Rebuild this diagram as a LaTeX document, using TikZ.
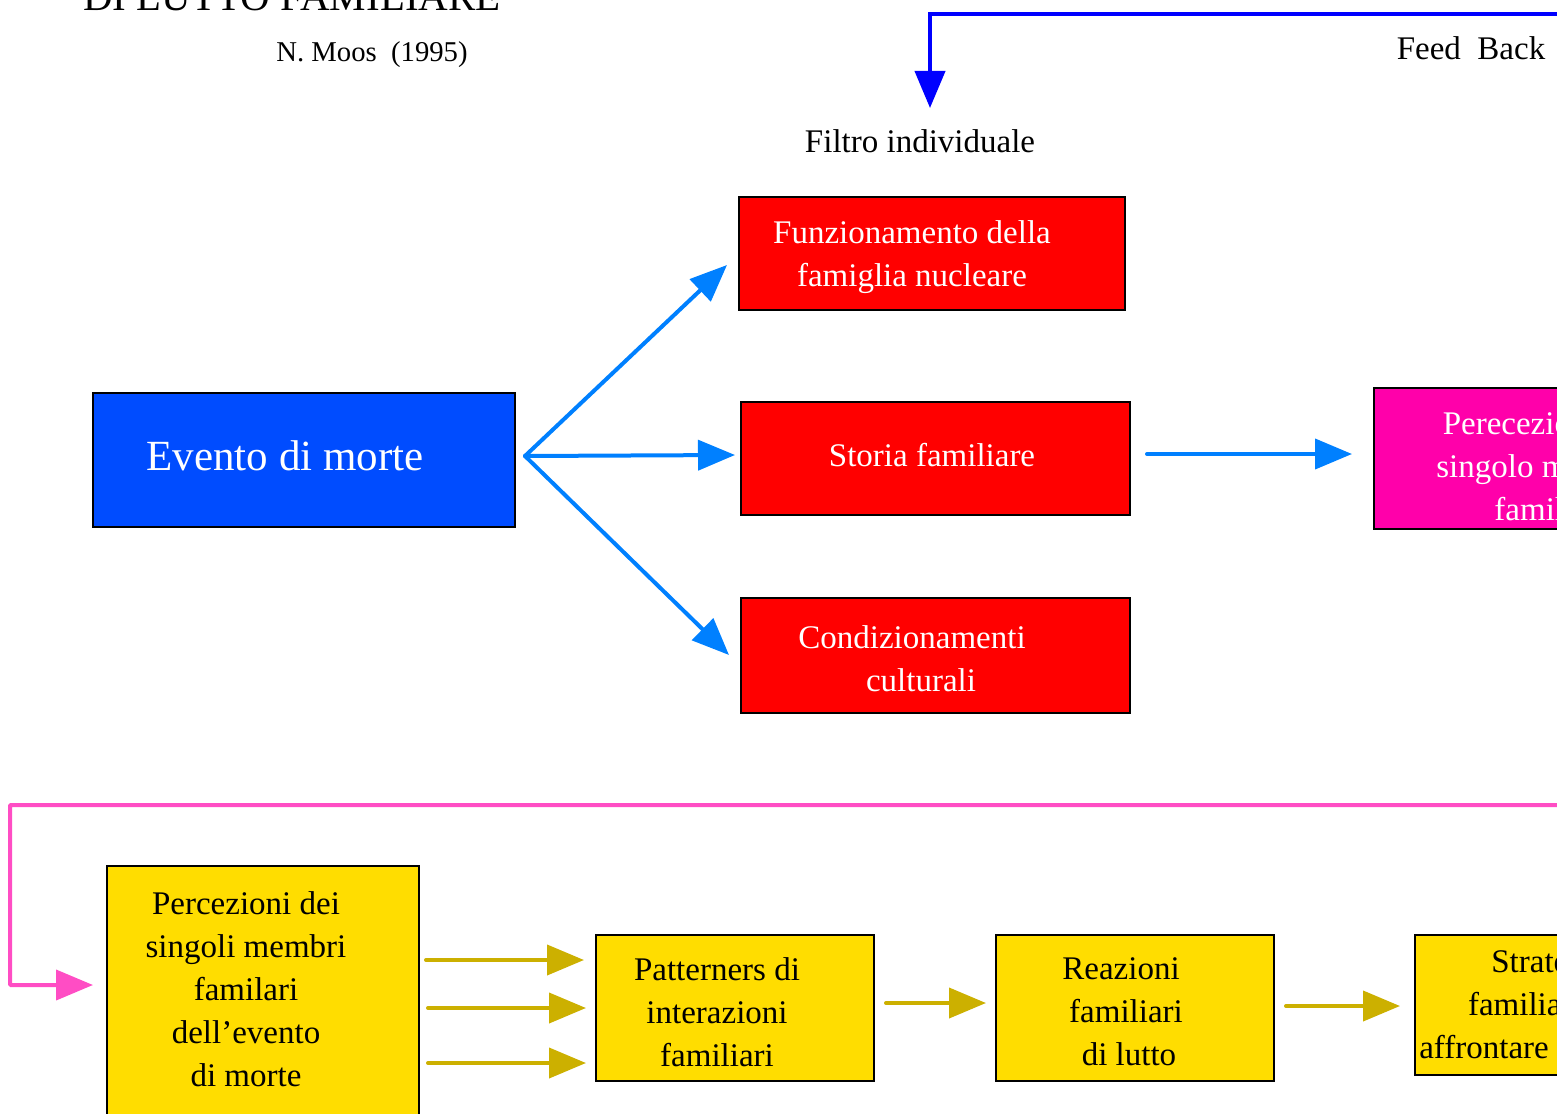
\documentclass[tikz,border=0pt]{standalone}
\usepackage{fontspec}
\setmainfont{Liberation Serif}
\usetikzlibrary{arrows.meta}
\definecolor{fbblue}{RGB}{0,0,255}
\definecolor{azure}{RGB}{0,128,255}
\definecolor{boxblue}{RGB}{0,76,255}
\definecolor{boxred}{RGB}{255,0,0}
\definecolor{boxmag}{RGB}{255,0,170}
\definecolor{boxyel}{RGB}{255,221,0}
\definecolor{gold}{RGB}{204,176,0}
\definecolor{pinkline}{RGB}{255,77,196}
\tikzset{
  box/.style={draw=black, line width=2.5, inner sep=0, rectangle},
  txt/.style={align=center, inner sep=0, font=\fontsize{33}{43}\selectfont},
  wtxt/.style={txt, text=white},
  tip/.style={-{Triangle[length=37,width=30]}, line width=4, line cap=round},
}
\begin{document}
\begin{tikzpicture}[x=1pt,y=-1pt]
\useasboundingbox (0,0) rectangle (1557,1113);
\clip (0,0) rectangle (1557,1113);

% titles
\node[anchor=base, inner sep=0, font=\fontsize{41}{48}\selectfont] (title) at (292,11) {DI LUTTO FAMILIARE};
\node[inner sep=0, font=\fontsize{28.7}{34}\selectfont] (author) at (372,55) {N. Moos\ \ (1995)};
\node[txt] (filtro) at (920,141) {Filtro individuale};
\node[txt] (feedback) at (1471,48) {Feed\ \ Back};

% boxes
\node[box, fill=boxblue, minimum width=422, minimum height=134] (evento) at (304,460) {};
\node[txt, text=white, font=\fontsize{43}{50}\selectfont] (eventot) at (285,456) {Evento di morte};

\node[box, fill=boxred, minimum width=386, minimum height=113] (r1) at (932,253.5) {};
\node[wtxt] (r1t) at (912,257) {Funzionamento della\\famiglia nucleare};
\node[box, fill=boxred, minimum width=389, minimum height=113] (r2) at (935.5,458.5) {};
\node[wtxt] (r2t) at (932,455) {Storia familiare};
\node[box, fill=boxred, minimum width=389, minimum height=115] (r3) at (935.5,655.5) {};
\node[wtxt] (r3t) at (912,659) {Condizionamenti\\\hspace*{18pt}culturali};

\node[box, fill=boxmag, minimum width=326, minimum height=141] (mag) at (1537,458.5) {};
\node[wtxt] (magt) at (1544,466) {Perecezioni del\\singolo membro\\\hspace*{20pt}familiare};

\node[box, fill=boxyel, minimum width=312, minimum height=274] (y1) at (263,1003) {};
\node[txt] (y1t) at (246,989) {Percezioni dei\\singoli membri\\familari\\dell’evento\\di morte};
\node[box, fill=boxyel, minimum width=278, minimum height=146] (y2) at (735,1008) {};
\node[txt] (y2t) at (717,1012) {Patterners di\\interazioni\\familiari};
\node[box, fill=boxyel, minimum width=278, minimum height=146] (y3) at (1135,1008) {};
\node[txt] (y3t) at (1126,1012) {Reazioni\hspace*{10pt}\\familiari\\\hspace*{6pt}di lutto};
\node[box, fill=boxyel, minimum width=285, minimum height=140] (y4) at (1557.5,1005) {};
\node[txt] (y4t) at (1550,1008) {Strategie\\familiari per\\affrontare la perdita};

% feedback connector
\coordinate (fbR) at (1600,14);
\coordinate (fbT) at (930,108);
\draw[tip, fbblue] (fbR) -| (fbT);

% azure arrows
\coordinate (split) at (525,456);
\coordinate (t1) at (727,265);
\coordinate (t2) at (735,455);
\coordinate (t3) at (729,655);
\draw[tip, azure] (split) -- (t1);
\draw[tip, azure] (split) -- (t2);
\draw[tip, azure] (split) -- (t3);
\coordinate (s4) at (1147,454);
\coordinate (t4) at (1352,454);
\draw[tip, azure] (s4) -- (t4);

% pink loop
\coordinate (pR) at (1600,805);
\coordinate (pL) at (10,805);
\coordinate (pT) at (93,985);
\draw[tip, pinkline, rounded corners=1] (pR) -- (pL) |- (pT);

% gold arrows
\coordinate (g1s) at (426,960); \coordinate (g1e) at (584,960);
\coordinate (g2s) at (428,1008); \coordinate (g2e) at (586,1008);
\coordinate (g3s) at (428,1063); \coordinate (g3e) at (586,1063);
\coordinate (g4s) at (886,1003); \coordinate (g4e) at (986,1003);
\coordinate (g5s) at (1286,1006); \coordinate (g5e) at (1400,1006);
\foreach \a in {1,...,5}{\draw[tip, gold] (g\a s) -- (g\a e);}
\end{tikzpicture}
\end{document}
